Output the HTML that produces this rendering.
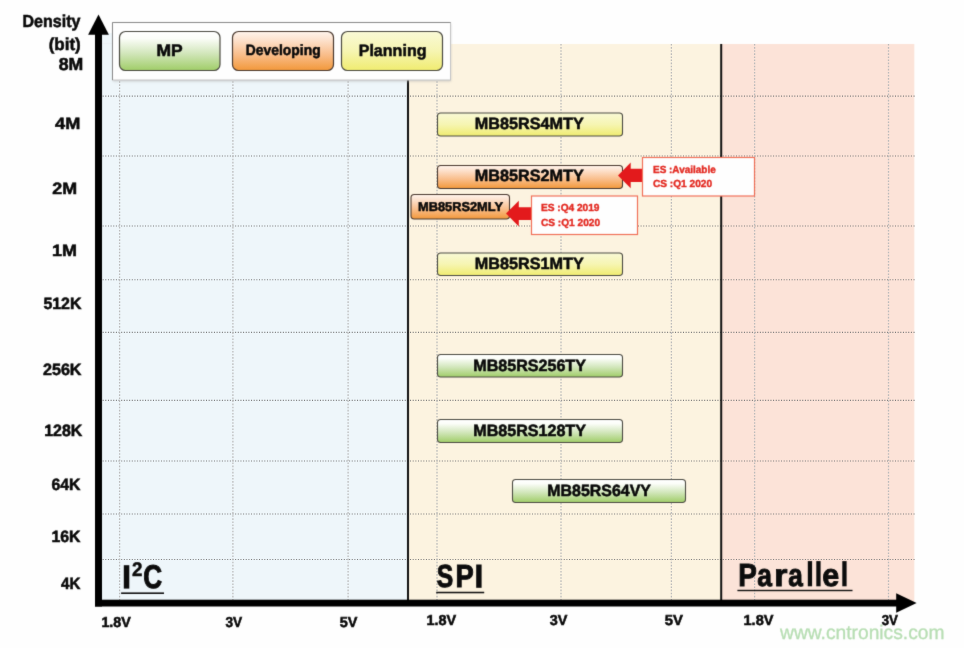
<!DOCTYPE html>
<html>
<head>
<meta charset="utf-8">
<title>FRAM SPI Roadmap</title>
<style>
html,body{margin:0;padding:0;background:#fefefe;}
body{width:964px;height:648px;overflow:hidden;font-family:"Liberation Sans",sans-serif;}
svg{display:block;will-change:transform;}
text{font-family:"Liberation Sans",sans-serif;text-rendering:geometricPrecision;}
.b{font-weight:bold;fill:#0a0a0a;stroke:#0a0a0a;}
.t{font-weight:bold;fill:#0c0c0c;stroke:#0c0c0c;}
.t2{font-weight:bold;fill:#0c0c0c;stroke:#0c0c0c;}
.w{fill:#9fd39a;stroke:#9fd39a;opacity:0.75;}
.r{font-weight:bold;fill:#e32c24;stroke:#e32c24;}
</style>
</head>
<body>
<svg width="964" height="648" viewBox="0 0 964 648">
<defs>
<linearGradient id="gG" x1="0" y1="0" x2="0" y2="1">
<stop offset="0" stop-color="#ffffff"/><stop offset="0.18" stop-color="#fbfdf8"/><stop offset="0.55" stop-color="#d3e7bd"/><stop offset="1" stop-color="#a0cd68"/>
</linearGradient>
<linearGradient id="gO" x1="0" y1="0" x2="0" y2="1">
<stop offset="0" stop-color="#fff4ec"/><stop offset="0.2" stop-color="#fde3d0"/><stop offset="0.6" stop-color="#f9bd8a"/><stop offset="1" stop-color="#f2983a"/>
</linearGradient>
<linearGradient id="gY" x1="0" y1="0" x2="0" y2="1">
<stop offset="0" stop-color="#f9f9d6"/><stop offset="0.5" stop-color="#f6f5b2"/><stop offset="1" stop-color="#f0ec70"/>
</linearGradient>
<filter id="soft" filterUnits="userSpaceOnUse" x="-10" y="-10" width="984" height="668" color-interpolation-filters="sRGB"><feConvolveMatrix order="3" kernelMatrix="0.01210 0.08580 0.01210 0.08580 0.60840 0.08580 0.01210 0.08580 0.01210" edgeMode="duplicate"/></filter>
<filter id="soft2" filterUnits="userSpaceOnUse" x="-10" y="-10" width="984" height="668"><feGaussianBlur stdDeviation="0.22"/></filter>
<filter id="sh" x="-5%" y="-10%" width="110%" height="125%"><feGaussianBlur stdDeviation="1.2"/></filter>
</defs>
<g filter="url(#soft)">
<rect x="-10" y="-10" width="984" height="668" fill="#fefefe"/>
<!-- region backgrounds -->
<rect x="100" y="33" width="14" height="12" fill="#eef6fa"/>
<rect x="102" y="43.8" width="11" height="0.8" fill="#e3dede"/>
<rect x="100" y="44" width="308" height="558" fill="#eef6fa"/>
<rect x="408" y="44" width="313" height="558" fill="#fcf3e0"/>
<rect x="721" y="44" width="193.3" height="558" fill="#fce3d8"/>
</g>
<!-- grid -->
<g>
<g stroke="#7a7a7a" stroke-width="1.15" stroke-dasharray="1 1.65" fill="none">
<path d="M100 96.1H915.5M100 156H915.5M100 226H915.5M100 279.7H915.5M100 332.4H915.5M100 400.4H915.5M100 461H915.5M100 514H915.5M100 559.5H915.5"/>
</g>
<g stroke="#bababa" stroke-width="1.25" stroke-dasharray="1.6 1.5" fill="none">
<path d="M119.6 44V600M232.9 44V600M348.1 44V600M437 44V600M561 44V600M671.4 44V600M754.6 44V600M888.5 44V600"/>
</g>
</g>
<g filter="url(#soft)">
<!-- dividers -->
<rect x="407" y="44" width="2" height="558" fill="#111"/>
<rect x="720.2" y="44" width="2" height="558" fill="#111"/>
<!-- axes -->
<rect x="95" y="30" width="7" height="576.5" fill="#000"/>
<polygon points="98.5,14.5 88.1,34.8 108.9,34.8" fill="#000"/>
<rect x="95" y="599.7" width="802" height="6.8" fill="#000"/>
<polygon points="916.6,603.1 896.2,593.3 896.2,612.7" fill="#000"/>
<!-- legend -->
<rect x="113" y="23.5" width="338" height="58" fill="#b0b0b0" filter="url(#sh)" opacity="0.55"/>
<rect x="112.5" y="22.5" width="338" height="57.5" fill="#fefefe" stroke="#c4c4c4" stroke-width="1"/>
<path d="M112.5 80V22.5H450.5" fill="none" stroke="#8a8a8a" stroke-width="1"/>
<rect x="119.5" y="31.5" width="100.5" height="39" rx="6" ry="6" fill="url(#gG)" stroke="#4b4a42" stroke-width="1.2"/>
<rect x="232.5" y="31.5" width="101" height="39" rx="6" ry="6" fill="url(#gO)" stroke="#4b3a30" stroke-width="1.2"/>
<rect x="341.5" y="31.5" width="101" height="39" rx="6" ry="6" fill="url(#gY)" stroke="#4b4a42" stroke-width="1.2"/>

<text class="b" transform="matrix(0.16600 0 0 0.16600 156.4 56)" font-size="100" stroke-width="3.31" textLength="157.831" lengthAdjust="spacingAndGlyphs">MP</text>
<text class="b" transform="matrix(0.14700 0 0 0.14700 245.7 55)" font-size="100" stroke-width="3.74" textLength="510.204" lengthAdjust="spacingAndGlyphs">Developing</text>
<text class="b" transform="matrix(0.16400 0 0 0.16400 358.7 56)" font-size="100" stroke-width="3.35" textLength="413.415" lengthAdjust="spacingAndGlyphs">Planning</text>
<!-- y labels -->
<text class="b" transform="matrix(0.17300 0 0 0.17300 22.5 27)" font-size="100" stroke-width="3.18" textLength="335.260" lengthAdjust="spacingAndGlyphs">Density</text>
<text class="b" transform="matrix(0.17300 0 0 0.17300 48.7 50)" font-size="100" stroke-width="3.18" textLength="184.971" lengthAdjust="spacingAndGlyphs">(bit)</text>
<text class="b" transform="matrix(0.17300 0 0 0.17300 58.7 70)" font-size="100" stroke-width="3.18" textLength="141.618" lengthAdjust="spacingAndGlyphs">8M</text>
<text class="b" transform="matrix(0.16400 0 0 0.16400 55 129)" font-size="100" stroke-width="3.35" textLength="154.268" lengthAdjust="spacingAndGlyphs">4M</text>
<text class="b" transform="matrix(0.16400 0 0 0.16400 52.2 194)" font-size="100" stroke-width="3.35" textLength="151.220" lengthAdjust="spacingAndGlyphs">2M</text>
<text class="b" transform="matrix(0.16400 0 0 0.16400 52 256)" font-size="100" stroke-width="3.35" textLength="152.439" lengthAdjust="spacingAndGlyphs">1M</text>
<text class="b" transform="matrix(0.16400 0 0 0.16400 43.4 309)" font-size="100" stroke-width="3.35" textLength="231.707" lengthAdjust="spacingAndGlyphs">512K</text>
<text class="b" transform="matrix(0.16400 0 0 0.16400 43 375)" font-size="100" stroke-width="3.35" textLength="234.756" lengthAdjust="spacingAndGlyphs">256K</text>
<text class="b" transform="matrix(0.16400 0 0 0.16400 44.2 436)" font-size="100" stroke-width="3.35" textLength="231.707" lengthAdjust="spacingAndGlyphs">128K</text>
<text class="b" transform="matrix(0.16400 0 0 0.16400 51.4 490)" font-size="100" stroke-width="3.35" textLength="176.829" lengthAdjust="spacingAndGlyphs">64K</text>
<text class="b" transform="matrix(0.16400 0 0 0.16400 51.4 542)" font-size="100" stroke-width="3.35" textLength="176.829" lengthAdjust="spacingAndGlyphs">16K</text>
<text class="b" transform="matrix(0.16400 0 0 0.16400 61 589)" font-size="100" stroke-width="3.35" textLength="117.683" lengthAdjust="spacingAndGlyphs">4K</text>
<!-- product boxes -->
<rect x="437.5" y="113" width="185" height="23" rx="3.2" ry="3.2" fill="url(#gY)" stroke="#4b4a42" stroke-width="1.1"/>
<text class="b" transform="matrix(0.16300 0 0 0.16300 474.8 129)" font-size="100" stroke-width="3.37" textLength="668.098" lengthAdjust="spacingAndGlyphs">MB85RS4MTY</text>
<rect x="437.5" y="165.5" width="185" height="23" rx="3.2" ry="3.2" fill="url(#gO)" stroke="#4b3a30" stroke-width="1.1"/>
<text class="b" transform="matrix(0.16300 0 0 0.16300 474.8 181)" font-size="100" stroke-width="3.37" textLength="668.098" lengthAdjust="spacingAndGlyphs">MB85RS2MTY</text>
<rect x="411" y="194.5" width="98.5" height="24.5" rx="3.2" ry="3.2" fill="url(#gO)" stroke="#4b3a30" stroke-width="1.1"/>
<text class="b" transform="matrix(0.12800 0 0 0.12800 418 211)" font-size="100" stroke-width="4.30" textLength="664.062" lengthAdjust="spacingAndGlyphs">MB85RS2MLY</text>
<rect x="437.5" y="253" width="185" height="22.5" rx="3.2" ry="3.2" fill="url(#gY)" stroke="#4b4a42" stroke-width="1.1"/>
<text class="b" transform="matrix(0.16300 0 0 0.16300 474.8 269)" font-size="100" stroke-width="3.37" textLength="668.098" lengthAdjust="spacingAndGlyphs">MB85RS1MTY</text>
<rect x="437.5" y="354.5" width="185" height="22.5" rx="3.2" ry="3.2" fill="url(#gG)" stroke="#4b4a42" stroke-width="1.1"/>
<text class="b" transform="matrix(0.16300 0 0 0.16300 473.3 371)" font-size="100" stroke-width="3.37" textLength="690.798" lengthAdjust="spacingAndGlyphs">MB85RS256TY</text>
<rect x="437.5" y="419.5" width="185" height="23" rx="3.2" ry="3.2" fill="url(#gG)" stroke="#4b4a42" stroke-width="1.1"/>
<text class="b" transform="matrix(0.16300 0 0 0.16300 473.3 436)" font-size="100" stroke-width="3.37" textLength="690.798" lengthAdjust="spacingAndGlyphs">MB85RS128TY</text>
<rect x="512.5" y="479.5" width="173" height="23" rx="3.2" ry="3.2" fill="url(#gG)" stroke="#4b4a42" stroke-width="1.1"/>
<text class="b" transform="matrix(0.16300 0 0 0.16300 547.3 496)" font-size="100" stroke-width="3.37" textLength="635.583" lengthAdjust="spacingAndGlyphs">MB85RS64VY</text>
<!-- red callouts -->
<polygon points="618,175.5 630.7,162.5 630.7,168.8 643,168.8 643,182 630.7,182 630.7,188.3" fill="#e31a1c"/>
<rect x="642.5" y="157.5" width="112" height="38.5" fill="#fefefe" stroke="#f1715a" stroke-width="1.2"/>
<text class="r" transform="matrix(0.10300 0 0 0.10300 653 173)" font-size="100" stroke-width="3.88" textLength="608.738" lengthAdjust="spacingAndGlyphs">ES :Available</text>
<text class="r" transform="matrix(0.10300 0 0 0.10300 653 187)" font-size="100" stroke-width="3.88" textLength="572.816" lengthAdjust="spacingAndGlyphs">CS :Q1 2020</text>
<polygon points="506,213.6 518.8,200.7 518.8,207.2 531.5,207.2 531.5,220.1 518.8,220.1 518.8,226.4" fill="#e31a1c"/>
<rect x="531.5" y="196" width="106" height="38.5" fill="#fefefe" stroke="#f1715a" stroke-width="1.2"/>
<text class="r" transform="matrix(0.10300 0 0 0.10300 541 211)" font-size="100" stroke-width="3.88" textLength="567.961" lengthAdjust="spacingAndGlyphs">ES :Q4 2019</text>
<text class="r" transform="matrix(0.10300 0 0 0.10300 541 226)" font-size="100" stroke-width="3.88" textLength="572.816" lengthAdjust="spacingAndGlyphs">CS :Q1 2020</text>
<!-- section titles -->
<rect x="123.80" y="565.20" width="5.50" height="23.40" fill="#0c0c0c"/>
<text class="t2" transform="matrix(0.1872 0 0 0.1969 131.89 576.00)" font-size="100" stroke-width="2.59">2</text>
<text class="t" transform="matrix(0.2617 0 0 0.3295 143.22 588.00)" font-size="100" stroke-width="3.01">C</text>
<rect x="121.10" y="592.40" width="42.90" height="1.60" fill="#111"/>
<text class="t" transform="matrix(0.2474 0 0 0.3208 436.78 587.00)" font-size="100" stroke-width="3.14">S</text>
<text class="t" transform="matrix(0.2735 0 0 0.3200 455.38 587.00)" font-size="100" stroke-width="3.01">P</text>
<rect x="476.20" y="564.50" width="5.40" height="23.30" fill="#0c0c0c"/>
<rect x="436.20" y="591.75" width="48.00" height="1.55" fill="#111"/>
<text class="t" transform="matrix(0.2785 0 0 0.3215 738.26 586.00)" font-size="100" stroke-width="3.01">P</text>
<text class="t" transform="matrix(0.2640 0 0 0.3161 757.24 586.00)" font-size="100" stroke-width="3.11">a</text>
<text class="t" transform="matrix(0.3395 0 0 0.3132 774.13 586.00)" font-size="100" stroke-width="2.77">r</text>
<text class="t" transform="matrix(0.2622 0 0 0.3161 788.34 586.00)" font-size="100" stroke-width="3.12">a</text>
<rect x="807.80" y="561.10" width="4.30" height="25.20" fill="#0c0c0c"/>
<rect x="816.30" y="561.10" width="4.30" height="25.20" fill="#0c0c0c"/>
<text class="t" transform="matrix(0.3047 0 0 0.3167 822.25 586.00)" font-size="100" stroke-width="2.90">e</text>
<rect x="842.30" y="561.10" width="4.30" height="25.20" fill="#0c0c0c"/>
<rect x="737.40" y="589.80" width="115.10" height="1.40" fill="#111"/>
<!-- x labels -->
<text class="b" transform="matrix(0.14400 0 0 0.14400 101.4 627)" font-size="100" stroke-width="3.82" textLength="204.167" lengthAdjust="spacingAndGlyphs">1.8V</text>
<text class="b" transform="matrix(0.14400 0 0 0.14400 225.39999999999998 627)" font-size="100" stroke-width="3.82" textLength="115.972" lengthAdjust="spacingAndGlyphs">3V</text>
<text class="b" transform="matrix(0.14400 0 0 0.14400 339.7 627)" font-size="100" stroke-width="3.82" textLength="122.917" lengthAdjust="spacingAndGlyphs">5V</text>
<text class="b" transform="matrix(0.14400 0 0 0.14400 426.4 625)" font-size="100" stroke-width="3.82" textLength="206.250" lengthAdjust="spacingAndGlyphs">1.8V</text>
<text class="b" transform="matrix(0.14400 0 0 0.14400 549.7 625)" font-size="100" stroke-width="3.82" textLength="122.917" lengthAdjust="spacingAndGlyphs">3V</text>
<text class="b" transform="matrix(0.14400 0 0 0.14400 664.7 625)" font-size="100" stroke-width="3.82" textLength="125.694" lengthAdjust="spacingAndGlyphs">5V</text>
<text class="b" transform="matrix(0.14400 0 0 0.14400 743.5 625)" font-size="100" stroke-width="3.82" textLength="208.333" lengthAdjust="spacingAndGlyphs">1.8V</text>
<text class="b" transform="matrix(0.14400 0 0 0.14400 881.7 625)" font-size="100" stroke-width="3.82" textLength="112.500" lengthAdjust="spacingAndGlyphs">3V</text>
<!-- watermark -->
<text class="w" transform="matrix(0.19600 0 0 0.19600 780 639)" font-size="100" stroke-width="1.53" textLength="839.286" lengthAdjust="spacingAndGlyphs">www.cntronics.com</text>
</g>
</svg>
</body>
</html>
